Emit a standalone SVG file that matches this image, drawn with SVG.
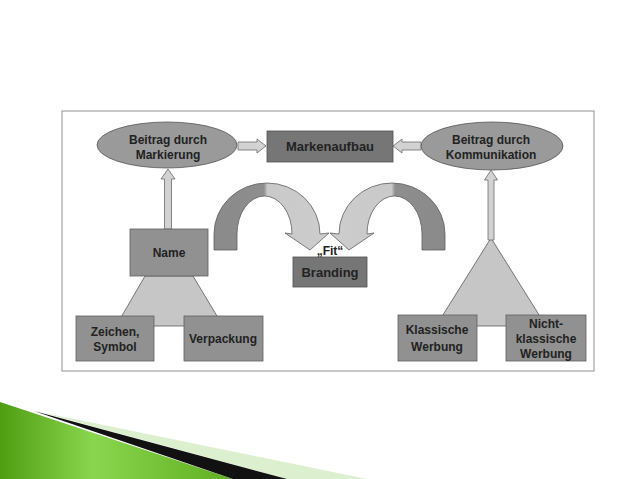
<svg xmlns="http://www.w3.org/2000/svg" width="638" height="479" viewBox="0 0 638 479">
<style>
  .t{font-family:"Liberation Sans",Arial,sans-serif;font-weight:bold;fill:#222;text-anchor:middle}
  .s12{font-size:12px}
  .s13{font-size:13px}
  .box{fill:#919191;stroke:#606060;stroke-width:0.8}
  .dark{fill:#767676;stroke:#505050;stroke-width:0.8}
  .ell{fill:#9a9a9a;stroke:#555;stroke-width:0.8}
  .fan{fill:#c6c6c6;stroke:#5a5a5a;stroke-width:0.8}
  .blk{fill:#d2d2d2;stroke:#6a6a6a;stroke-width:0.8}
  .curve{fill:url(#cg);stroke:#5e5e5e;stroke-width:0.8}
</style>
<defs>
  <linearGradient id="cg" gradientUnits="userSpaceOnUse" x1="214" y1="0" x2="330" y2="0">
    <stop offset="0" stop-color="#8a8a8a"/>
    <stop offset="0.43" stop-color="#8e8e8e"/>
    <stop offset="0.46" stop-color="#c9c9c9"/>
    <stop offset="1" stop-color="#cdcdcd"/>
  </linearGradient>
  <linearGradient id="gg" x1="0" y1="0" x2="1" y2="0">
    <stop offset="0" stop-color="#4f9e12"/>
    <stop offset="0.4" stop-color="#8ad64e"/>
    <stop offset="1" stop-color="#5fae20"/>
  </linearGradient>
</defs>
<rect width="638" height="479" fill="#fff"/>

<!-- decorative swoosh -->
<g id="swoosh">
  <polygon points="40,412 367,479 287,479" fill="#dcefcf"/>
  <polygon points="0,402 233,479 0,479" fill="url(#gg)"/>
  <polygon points="34,411 287,479 233,479" fill="#111"/>
</g>

<!-- frame -->
<rect x="62" y="111" width="532" height="260" fill="#fff" stroke="#a4a4a4" stroke-width="1.2"/>

<g id="fan-left"><polygon class="fan" points="145,276 193,276 223,326 116,326"/></g>
<g id="fan-right"><polygon class="fan" points="491,238 546,326 436,326"/></g>

<g id="connectors">
  <polygon class="blk" points="238,142 257,142 257,139 266,146 257,153 257,150 238,150"/>
  <polygon class="blk" points="421,142 402,142 402,139 393,146 402,153 402,150 421,150"/>
  <polygon class="blk" points="164.5,229 164.5,179 161,179 168,169 175,179 171.5,179 171.5,229"/>
  <polygon class="blk" points="488,240 488,180 484.5,180 491,170 497.5,180 494,180 494,240"/>
  <path class="curve" d="M214 250 L214 234 A53 51 0 0 1 320 234 L329 233 L310 250 L285 233 L292 234 A27.5 38 0 0 0 237 234 L237 250 Z"/>
  <path class="curve" transform="translate(659,0) scale(-1,1)" d="M214 250 L214 234 A53 51 0 0 1 320 234 L329 233 L310 250 L285 233 L292 234 A27.5 38 0 0 0 237 234 L237 250 Z"/>
</g>

<g id="beitrag-markierung">
  <ellipse class="ell" cx="167" cy="145" rx="70" ry="23"/>
  <text class="t s12" x="168" y="144">Beitrag durch</text>
  <text class="t s12" x="168" y="159">Markierung</text>
</g>
<g id="markenaufbau">
  <rect class="dark" x="267" y="131" width="126" height="31"/>
  <text class="t s13" x="330" y="151">Markenaufbau</text>
</g>
<g id="beitrag-kommunikation">
  <ellipse class="ell" cx="492" cy="146" rx="71" ry="24"/>
  <text class="t s12" x="491" y="144">Beitrag durch</text>
  <text class="t s12" x="491" y="159">Kommunikation</text>
</g>
<g id="fit">
  <text class="t s12" x="330" y="255">„Fit“</text>
</g>
<g id="branding">
  <rect class="dark" x="293" y="257" width="74" height="30"/>
  <text class="t s13" x="330" y="277">Branding</text>
</g>
<g id="name">
  <rect class="box" x="130" y="229" width="78" height="47"/>
  <text class="t s12" x="169" y="257">Name</text>
</g>
<g id="zeichen-symbol">
  <rect class="box" x="76" y="316" width="78" height="45"/>
  <text class="t s12" x="115" y="336">Zeichen,</text>
  <text class="t s12" x="115" y="351">Symbol</text>
</g>
<g id="verpackung">
  <rect class="box" x="184" y="316" width="79" height="45"/>
  <text class="t s12" x="223" y="343">Verpackung</text>
</g>
<g id="klassische-werbung">
  <rect class="box" x="398" y="315" width="79" height="46"/>
  <text class="t s12" x="437" y="334">Klassische</text>
  <text class="t s12" x="437" y="351">Werbung</text>
</g>
<g id="nicht-klassische-werbung">
  <rect class="box" x="506" y="315" width="80" height="46"/>
  <text class="t s12" x="546" y="328">Nicht-</text>
  <text class="t s12" x="546" y="343">klassische</text>
  <text class="t s12" x="546" y="358">Werbung</text>
</g>
</svg>
